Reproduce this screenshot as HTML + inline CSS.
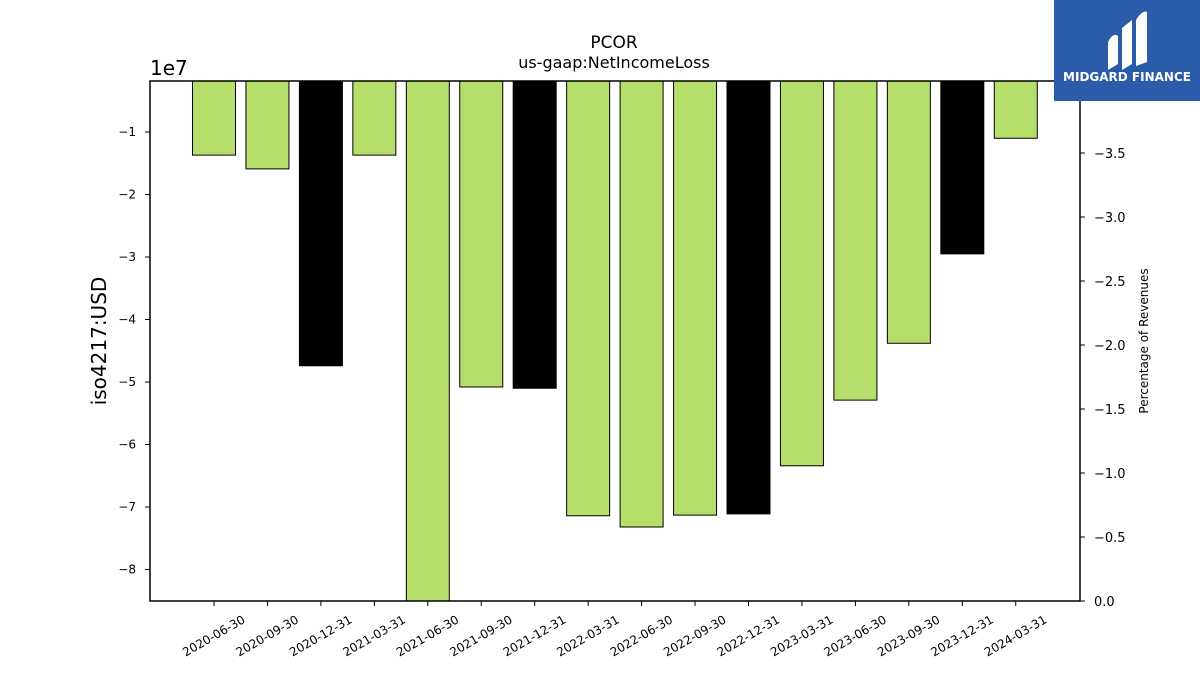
<!DOCTYPE html>
<html><head><meta charset="utf-8"><style>
body{margin:0;background:#fff;font-family:"Liberation Sans","DejaVu Sans",sans-serif;}
</style></head><body>
<svg width="1200" height="675" viewBox="0 0 1200 675" xmlns="http://www.w3.org/2000/svg" style="font-family:'DejaVu Sans','Liberation Sans',sans-serif">
<text x="614" y="48" font-size="17" text-anchor="middle">PCOR</text>
<text x="614" y="68" font-size="16" text-anchor="middle">us-gaap:NetIncomeLoss</text>
<text x="150" y="75" font-size="20">1e7</text>
<text transform="translate(106,341) rotate(-90)" font-size="20" text-anchor="middle">iso4217:USD</text>
<text transform="translate(1148,341) rotate(-90)" font-size="12" text-anchor="middle">Percentage of Revenues</text>
<g id="bars"></g><g id="lt"></g><g id="rt"></g><g id="xt"></g>
<rect x="150" y="81" width="930" height="520" fill="none" stroke="#000" stroke-width="1.5"/>
<g>
<rect x="1054" y="0" width="146" height="101" fill="#2a5caa"/>
<path d="M1108 70 L1108 42 Q1113 32 1118 36 L1118 64 Z M1122 70 L1122 28 L1132 20 L1132 64 Z M1136 66 L1136 20 Q1142 10 1147 12 L1147 62 Z" fill="#fff"/>
<text x="1127" y="81" font-size="12" font-weight="bold" fill="#fff" text-anchor="middle">MIDGARD FINANCE</text>
</g>
</svg>
<script>
const categories=["2020-06-30","2020-09-30","2020-12-31","2021-03-31","2021-06-30","2021-09-30","2021-12-31","2022-03-31","2022-06-30","2022-09-30","2022-12-31","2023-03-31","2023-06-30","2023-09-30","2023-12-31","2024-03-31"];
const values=[-1.37,-1.59,-4.74,-1.37,-8.6,-5.08,-5.10,-7.14,-7.32,-7.13,-7.11,-6.34,-5.29,-4.38,-2.95,-1.10];
const isAnnual=[0,0,1,0,0,0,1,0,0,0,1,0,0,0,1,0];
const leftTicks=[-1,-2,-3,-4,-5,-6,-7,-8];
const rightTicks=[0,-0.5,-1.0,-1.5,-2.0,-2.5,-3.0,-3.5];
const NS="http://www.w3.org/2000/svg";
const yL=v=>69.5-v*62.5, yR=v=>601+v*128, xC=i=>214+i*53.45;
function mk(t,a,p){const e=document.createElementNS(NS,t);for(const k in a)e.setAttribute(k,a[k]);document.getElementById(p).appendChild(e);return e;}
values.forEach((v,i)=>{const y1=Math.min(yL(v),601);const top=81;
const r=mk('rect',{x:xC(i)-21.5,y:top,width:43,height:Math.max(0,y1-top),fill:isAnnual[i]?'#000':'#b5df6a',stroke:'#000','stroke-width':1},'bars');

});
leftTicks.forEach(t=>{const y=yL(t);mk('line',{x1:145,x2:150,y1:y,y2:y,stroke:'#000'},'lt');
const tx=mk('text',{x:136,y:y+4,'font-size':12,'text-anchor':'end'},'lt');tx.textContent='\u2212'+Math.abs(t);

});
rightTicks.forEach(t=>{const y=yR(t);mk('line',{x1:1080,x2:1085,y1:y,y2:y,stroke:'#000'},'rt');
const tx=mk('text',{x:1094,y:y+5,'font-size':13},'rt');tx.textContent=(t<0?'\u2212':'')+Math.abs(t).toFixed(1);

});
categories.forEach((c,i)=>{const x=xC(i);mk('line',{x1:x,x2:x,y1:601,y2:606,stroke:'#000'},'xt');
const tx=mk('text',{transform:`translate(${x+32},${622}) rotate(-30)`,'font-size':12,'text-anchor':'end'},'xt');tx.textContent=c;

});
</script>
</body></html>
